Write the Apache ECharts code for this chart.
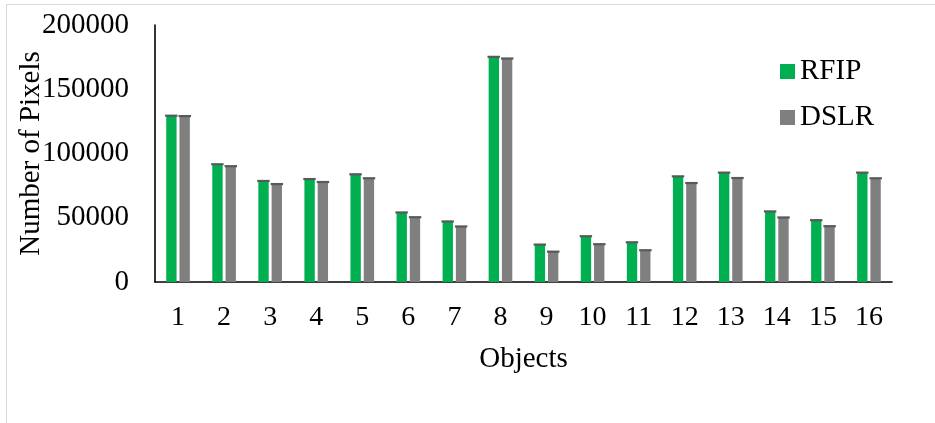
<!DOCTYPE html>
<html>
<head>
<meta charset="utf-8">
<script src="https://cdn.jsdelivr.net/npm/echarts@6/dist/echarts.min.js"></script>
<style>
  html, body { margin: 0; padding: 0; background: #fff; }
  #chart { width: 935px; height: 423px; }
</style>
</head>
<body>
<div id="chart"></div>
<script>
// Pixel counts per object for the two capture devices
const categories = ['1','2','3','4','5','6','7','8','9','10','11','12','13','14','15','16'];
const rfipValues = [129500, 91700, 78700, 80200, 83900, 54200, 47200, 175300, 29200, 35700, 31000, 82300, 85200, 55000, 48200, 85200];
const dslrValues = [129200, 90200, 76300, 77900, 80800, 50500, 43300, 174000, 23700, 29500, 24800, 77100, 81000, 50300, 43500, 80800];
const yTicks = { min: 0, max: 200000, interval: 50000 };

const FONT = '"Liberation Serif", "Times New Roman", serif';
const GREEN = '#00B050';
const GRAY = '#7F7F7F';
const CAP = '#595959';

// Bar geometry as fractions of one category band
const BAR_WIDTH = 0.225;
const BAR_GAP = '28%';
const CAP_OFFSET = 0.146;   // distance from band centre to each bar centre
const CAP_WIDTH = 0.27;

// Dark cap drawn on top of each bar, positioned through the axis scales
function capSeries(values, side) {
  return {
    type: 'custom',
    silent: true,
    z: 5,
    data: values.map((v, i) => [i, v]),
    renderItem: function (params, api) {
      const p = api.coord([api.value(0), api.value(1)]);
      const band = api.size([1, 0])[0];
      const w = band * CAP_WIDTH;
      const cx = p[0] + side * band * CAP_OFFSET;
      return {
        type: 'rect',
        shape: { x: cx - w / 2, y: p[1] - 1, width: w, height: 2.2 },
        style: { fill: CAP }
      };
    }
  };
}

const chart = echarts.init(document.getElementById('chart'), null, { renderer: 'canvas' });

chart.setOption({
  animation: false,
  backgroundColor: '#fff',
  graphic: [{
    type: 'rect',
    shape: { x: 6.5, y: 4.5, width: 1000, height: 1000 },
    style: { fill: 'none', stroke: '#D9D9D9', lineWidth: 1 },
    silent: true,
    z: -1
  }],
  grid: { left: 155, right: 43, top: 25, bottom: 141, containLabel: false, outerBoundsMode: 'none' },
  legend: {
    orient: 'vertical',
    left: 775,
    top: 52,
    itemWidth: 15,
    itemHeight: 15,
    itemGap: 17,
    icon: 'rect',
    textStyle: { fontFamily: FONT, fontSize: 29, color: '#000' },
    data: ['RFIP', 'DSLR']
  },
  xAxis: {
    type: 'category',
    data: categories,
    name: 'Objects',
    nameLocation: 'middle',
    nameGap: 63,
    nameMoveOverlap: false,
    nameTextStyle: { fontFamily: FONT, fontSize: 29, color: '#000' },
    axisLine: { show: true, lineStyle: { color: '#000', width: 1.6 } },
    axisTick: { show: false },
    axisLabel: { fontFamily: FONT, fontSize: 28, color: '#000', margin: 22, interval: 0 },
    splitLine: { show: false }
  },
  yAxis: {
    type: 'value',
    min: yTicks.min,
    max: yTicks.max,
    interval: yTicks.interval,
    name: 'Number of Pixels',
    nameLocation: 'middle',
    nameGap: 109,
    nameMoveOverlap: false,
    nameTextStyle: { fontFamily: FONT, fontSize: 29, color: '#000' },
    axisLine: { show: true, lineStyle: { color: '#000', width: 1.6 } },
    axisTick: { show: false },
    axisLabel: {
      fontFamily: FONT, fontSize: 29, color: '#000', margin: 26,
      formatter: function (v) { return String(v); }
    },
    splitLine: { show: false }
  },
  series: [
    {
      name: 'RFIP',
      type: 'bar',
      data: rfipValues,
      barWidth: (BAR_WIDTH * 100) + '%',
      barGap: BAR_GAP,
      itemStyle: { color: GREEN }
    },
    {
      name: 'DSLR',
      type: 'bar',
      data: dslrValues,
      barWidth: (BAR_WIDTH * 100) + '%',
      barGap: BAR_GAP,
      itemStyle: { color: GRAY }
    },
    capSeries(rfipValues, -1),
    capSeries(dslrValues, 1)
  ]
});
</script>
</body>
</html>
